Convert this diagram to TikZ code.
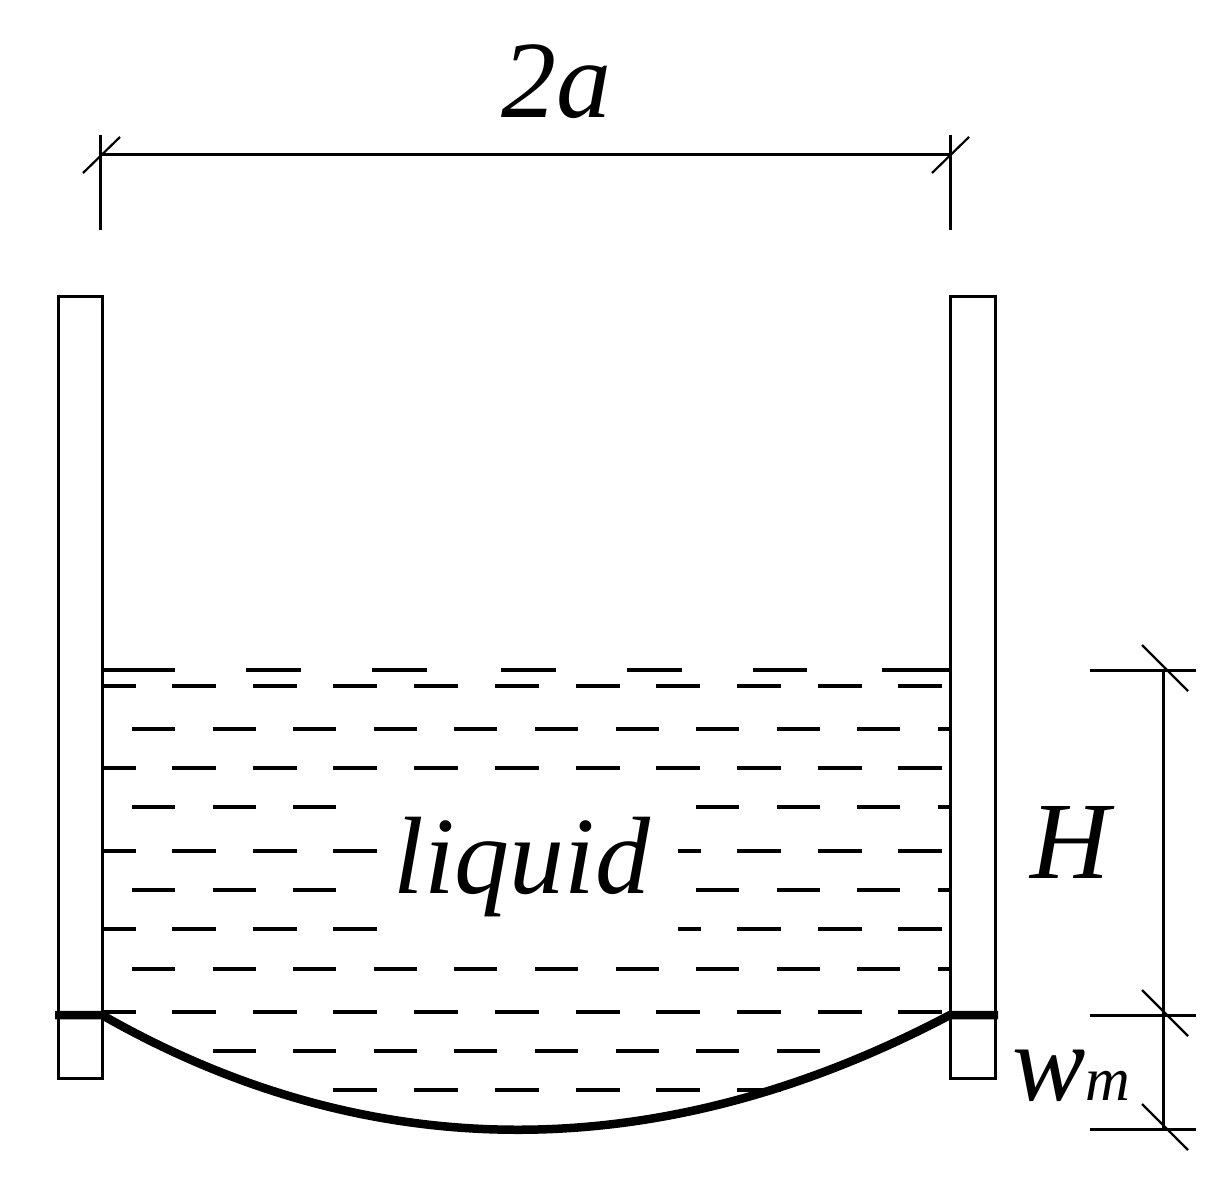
\documentclass[tikz,border=0pt]{standalone}
\usepackage{fontspec}
\setmainfont{Liberation Serif}
\begin{document}
\begin{tikzpicture}[x=1pt,y=-1pt,
  thinl/.style={line width=3pt},
  dsh/.style={line width=3.3pt},
  lab/.style={inner sep=0pt,font=\fontsize{110}{110}\selectfont\itshape}]
\useasboundingbox (0,0) rectangle (1231,1201);
% walls
\draw[thinl] (58,296) rectangle (102,1078);
\draw[thinl] (950,296) rectangle (995,1078);
% top dimension
\coordinate (tl) at (100,155); \coordinate (tr) at (950,155);
\draw[thinl] (tl) -- (tr);
\draw[thinl] (100,135) -- (100,230);
\draw[thinl] (950,135) -- (950,230);
\draw[line width=2.2pt] (83,173) -- (120,137);
\draw[line width=2.2pt] (932,173) -- (969,137);
\node[lab,anchor=base] (lab2a) at (556,118) {2a};
% right dimension
\draw[thinl] (1163,670) -- (1163,1129);
\foreach \yy in {670,1015,1129}{
  \draw[thinl] (1090,\yy) -- (1196,\yy);
  \draw[line width=2.2pt] (1142,\yy-25) -- (1188,\yy+21);
}
\node[lab,anchor=base] (labH) at (1070,878) {H};
\node[lab,anchor=base west] (labw) at (1012,1100) {w\fontsize{62}{62}\selectfont m};
% top surface row
\foreach \a/\b in {102/175,246/301,372/427,501/556,627/682,753/807,882/950}
  \draw[dsh] (\a,670) -- (\b,670);
% A rows
\foreach \yy/\ks in {686/{0,...,9},768/{0,...,9},1012/{0,...,9},851/{0,1,2,7,8,9},929/{0,1,2,7,8,9}}{
  \draw[dsh] (102,\yy) -- (136,\yy);
  \foreach \k in \ks \draw[dsh] (172+80.7*\k,\yy) -- ++(44,0);
}
\foreach \yy in {851,929} \draw[dsh] (678,\yy) -- (701,\yy);
\foreach \k in {2,...,7} \draw[dsh] (172+80.7*\k,1090) -- ++(44,0);
% B rows
\foreach \yy/\ks in {729/{0,...,9},969/{0,...,9},807/{0,1,2,7,8,9},890/{0,1,2,7,8,9},1051/{1,...,8}}{
  \foreach \k in \ks \draw[dsh] (132+80.6*\k,\yy) -- ++(43,0);
}
\foreach \yy in {729,807,890,969} \draw[dsh] (938,\yy) -- (950,\yy);
% liquid label
\node[lab,anchor=base] (liq) at (522,893) {liquid};
% membrane
\coordinate (m1) at (55,1015); \coordinate (m2) at (102,1015);
\coordinate (m3) at (950,1015); \coordinate (m4) at (998,1015);
\draw[line width=8.5pt] (m1) -- (m2) .. controls (370,1168) and (660,1168) .. (m3) -- (m4);
\end{tikzpicture}
\end{document}
